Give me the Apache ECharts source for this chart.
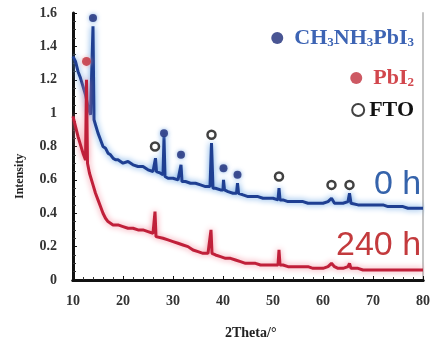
<!DOCTYPE html>
<html>
<head>
<meta charset="utf-8">
<script src="https://cdn.jsdelivr.net/npm/echarts@6/dist/echarts.min.js"></script>
<style>
  html, body { margin: 0; padding: 0; background: #fff; }
  #chart { width: 433px; height: 347px; }
</style>
</head>
<body>
<div id="chart"></div>
<script>
// XRD pattern, 0 h (fresh) - [2theta, intensity]
const hour0 = [
  [10, 1.34], [10.5, 1.31], [11, 1.25], [11.5, 1.21], [12, 1.16], [12.5, 1.11], [13, 1.04],
  [13.5, 0.99], [13.8, 1.0], [14.0, 1.52], [14.2, 0.96], [14.6, 0.92], [15, 0.88], [15.5, 0.84],
  [16, 0.8], [16.5, 0.79], [17, 0.76], [17.5, 0.75], [18, 0.73], [18.5, 0.72], [19, 0.72],
  [19.5, 0.71], [20, 0.7], [21, 0.71], [22, 0.69], [23, 0.68], [24, 0.68], [25, 0.66],
  [26, 0.65], [26.3, 0.66], [26.5, 0.73], [26.7, 0.65], [27, 0.64], [27.5, 0.64], [28, 0.63],
  [28.2, 0.86], [28.4, 0.62], [29, 0.61], [30, 0.61], [31, 0.6], [31.4, 0.59], [31.6, 0.69],
  [31.8, 0.59], [32.5, 0.59], [33.5, 0.58], [34.5, 0.58], [35.5, 0.57], [36.5, 0.56],
  [37.4, 0.56], [37.7, 0.82], [38.0, 0.55], [38.5, 0.55], [39.5, 0.54], [40.0, 0.54],
  [40.1, 0.6], [40.3, 0.54], [41, 0.53], [42, 0.52], [42.7, 0.52], [42.9, 0.58], [43.1, 0.52],
  [44, 0.51], [45, 0.5], [46, 0.5], [47, 0.5], [48, 0.49], [49, 0.49], [50, 0.49], [51, 0.48],
  [51.2, 0.55], [51.4, 0.48], [52, 0.48], [53, 0.47], [54, 0.47], [55, 0.47], [56, 0.47],
  [57, 0.46], [58, 0.46], [59, 0.46], [60, 0.46], [61, 0.47], [61.7, 0.49], [62.3, 0.46],
  [63, 0.46], [64, 0.46], [65, 0.47], [65.3, 0.52], [65.6, 0.46], [66, 0.46], [67, 0.45],
  [68, 0.45], [69, 0.45], [70, 0.45], [71, 0.45], [72, 0.45], [73, 0.44], [74, 0.44],
  [75, 0.44], [76, 0.44], [77, 0.43], [78, 0.43], [79, 0.43], [80, 0.43]
];

// XRD pattern, 240 h (aged)
const hour240 = [
  [10, 0.98], [10.5, 0.92], [11, 0.86], [11.5, 0.81], [12, 0.76], [12.5, 0.72], [12.7, 1.2],
  [12.9, 0.7], [13.3, 0.64], [14, 0.57], [14.5, 0.52], [15, 0.48], [15.5, 0.44], [16, 0.4],
  [16.5, 0.37], [17, 0.35], [17.5, 0.34], [18, 0.33], [19, 0.33], [20, 0.32], [21, 0.31],
  [22, 0.31], [23, 0.3], [24, 0.3], [25, 0.29], [26, 0.28], [26.2, 0.28], [26.4, 0.41],
  [26.6, 0.26], [27, 0.26], [28, 0.25], [29, 0.24], [30, 0.23], [31, 0.22], [32, 0.21],
  [33, 0.2], [34, 0.18], [35, 0.17], [36, 0.16], [37, 0.16], [37.4, 0.16], [37.6, 0.3],
  [37.8, 0.16], [38.5, 0.15], [39.5, 0.14], [40.5, 0.13], [41.5, 0.13], [42.5, 0.12],
  [43.5, 0.11], [44.5, 0.1], [45.5, 0.1], [46.5, 0.1], [47.5, 0.09], [48.5, 0.09], [49.5, 0.09],
  [50.5, 0.09], [51.0, 0.09], [51.2, 0.18], [51.4, 0.09], [52, 0.09], [53, 0.08], [54, 0.08],
  [55, 0.08], [56, 0.08], [57, 0.08], [58, 0.07], [59, 0.07], [60, 0.07], [61, 0.08],
  [61.7, 0.1], [62.3, 0.08], [63, 0.07], [64, 0.07], [65, 0.08], [65.3, 0.1], [65.6, 0.07],
  [66, 0.07], [67, 0.07], [68, 0.06], [70, 0.06], [72, 0.06], [74, 0.06], [76, 0.06],
  [78, 0.06], [80, 0.06]
];

// peak markers
const perovskitePeaks = [[14, 1.57], [28.2, 0.88], [31.6, 0.75], [40.1, 0.67], [42.9, 0.63]];
const pbi2Peaks = [[12.7, 1.31]];
const ftoPeaks = [[26.4, 0.8], [37.7, 0.87], [51.2, 0.62], [61.7, 0.57], [65.3, 0.57]];

const serif = 'Liberation Serif';

const chart = echarts.init(document.getElementById('chart'));

const legendBase = (name, top, color, gap) => ({
  data: [name],
  right: 14,
  top: top,
  itemWidth: 12,
  itemHeight: 12,
  textStyle: { color: color, rich: {
    g: { width: gap },
    a: { fontFamily: serif, fontWeight: 'bold', fontSize: 22, color: color },
    s: { fontFamily: serif, fontWeight: 'bold', fontSize: 13, verticalAlign: 'bottom', padding: [9, 0, 0, 0], color: color }
  } },
  formatter: (n) => {
    if (n === 'CH3NH3PbI3') return '{g|}{a|CH}{s|3}{a|NH}{s|3}{a|PbI}{s|3}';
    if (n === 'PbI2') return '{g|}{a|PbI}{s|2}';
    return '{g|}{a|' + n + '}';
  }
});

chart.setOption({
  animation: false,
  backgroundColor: '#fff',
  grid: { left: 73, right: 5, top: 13, bottom: 67 },
  legend: [
    legendBase('CH3NH3PbI3', 22, '#3d64b4', 6),
    legendBase('PbI2', 62, '#d2474d', 6),
    legendBase('FTO', 94, '#111', 0)
  ],
  xAxis: [{
    type: 'value',
    min: 10,
    max: 80,
    interval: 10,
    axisLine: { lineStyle: { color: '#111', width: 3 } },
    axisTick: { inside: true, length: 4, lineStyle: { color: '#111' } },
    minorTick: { show: true, splitNumber: 5, length: 3, lineStyle: { color: '#333' } },
    splitLine: { show: false },
    axisLabel: { margin: 14, fontFamily: serif, fontWeight: 'bold', fontSize: 14, color: '#333' }
  }, {
    type: 'value',
    position: 'top',
    min: 10,
    max: 80,
    axisLine: { show: true, lineStyle: { color: '#111', width: 3 } },
    axisTick: { show: false },
    axisLabel: { show: false },
    splitLine: { show: false }
  }],
  yAxis: [{
    type: 'value',
    min: 0,
    max: 1.6,
    interval: 0.2,
    axisLine: { show: true, lineStyle: { color: '#111', width: 3 } },
    axisTick: { show: true, inside: true, length: 4, lineStyle: { color: '#111' } },
    minorTick: { show: true, splitNumber: 4, length: 3, lineStyle: { color: '#333' } },
    splitLine: { show: false },
    axisLabel: { margin: 16, fontFamily: serif, fontWeight: 'bold', fontSize: 14, color: '#333' }
  }, {
    type: 'value',
    position: 'right',
    min: 0,
    max: 1.6,
    axisLine: { show: true, lineStyle: { color: '#c4c4c4', width: 2 } },
    axisTick: { show: false },
    axisLabel: { show: false },
    splitLine: { show: false }
  }],
  graphic: [
    { type: 'text', left: 225, top: 326, style: { text: '2Theta/°', font: 'bold 14px "Liberation Serif"', fill: '#222' } },
    { type: 'text', x: 14, y: 199, rotation: Math.PI / 2, style: { text: 'Intensity', font: 'bold 12px "Liberation Serif"', fill: '#222' } },
    { type: 'text', left: 374, top: 168, style: { text: '0 h', font: '34px "Liberation Sans"', fill: '#3563ab' } },
    { type: 'text', left: 336, top: 229, style: { text: '240 h', font: '34px "Liberation Sans"', fill: '#c33a3d' } }
  ],
  series: [
    {
      name: '0 h',
      type: 'line',
      data: hour0,
      showSymbol: false,
      lineStyle: { color: '#1f3f92', width: 3, shadowColor: '#5a9be0', shadowBlur: 6 },
      z: 2
    },
    {
      name: '240 h',
      type: 'line',
      data: hour240,
      showSymbol: false,
      lineStyle: { color: '#c0203a', width: 3, shadowColor: '#f28a9a', shadowBlur: 6 },
      z: 2
    },
    {
      name: 'CH3NH3PbI3',
      type: 'scatter',
      data: perovskitePeaks,
      symbolSize: 8,
      itemStyle: { color: '#1c2a78', shadowColor: '#6a9fe0', shadowBlur: 4 },
      z: 3
    },
    {
      name: 'PbI2',
      type: 'scatter',
      data: pbi2Peaks,
      symbolSize: 9,
      itemStyle: { color: '#c0303c', shadowColor: '#f0a0a0', shadowBlur: 4 },
      z: 3
    },
    {
      name: 'FTO',
      type: 'scatter',
      data: ftoPeaks,
      symbolSize: 8,
      itemStyle: { color: '#fff', borderColor: '#111', borderWidth: 2.5 },
      z: 3
    }
  ]
});
</script>
</body>
</html>
